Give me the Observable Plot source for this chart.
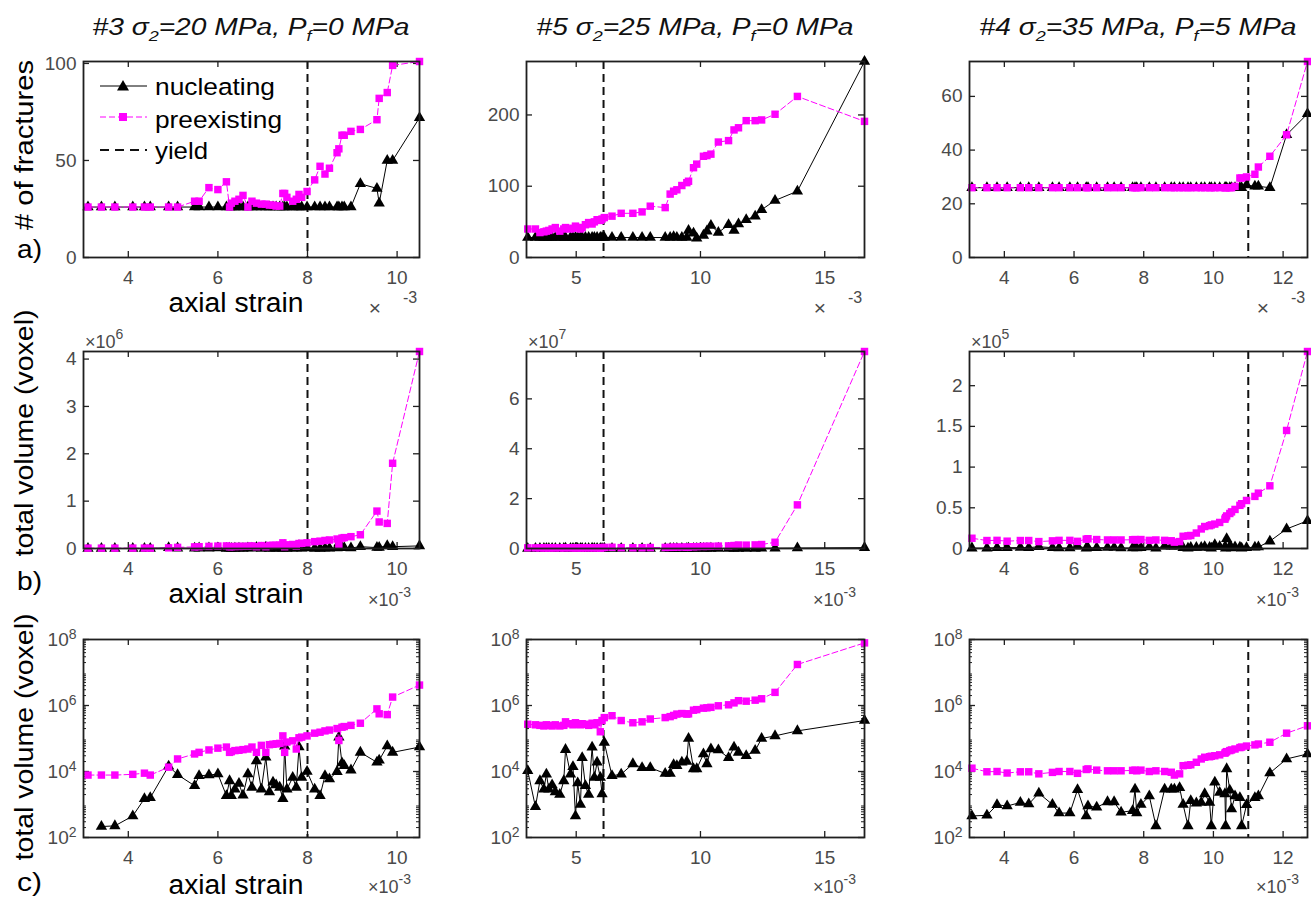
<!DOCTYPE html>
<html><head><meta charset="utf-8">
<script src="https://cdn.jsdelivr.net/npm/d3@7"></script>
<script src="https://cdn.jsdelivr.net/npm/@observablehq/plot@0.6"></script>
<style>
body{margin:0;background:#fff;overflow:hidden}
#fig{position:relative;width:1311px;height:901px;background:#fff;font-family:"Liberation Sans",Arial,sans-serif}
#fig .panel{position:absolute}
#overlay{position:absolute;left:0;top:0;pointer-events:none}
</style></head><body><div id="fig"></div>
<script>
// ---------------- DATA (axial strain in units of 1e-3) ----------------
// Experiment #3  sigma2=20 MPa, Pf=0 MPa
const strain3 = [3.1,3.4,3.7,4.1,4.36,4.49,4.9,5.1,5.48,5.58,5.8,6.0,6.19,6.26,6.3,6.38,6.47,6.56,6.67,6.76,6.86,6.97,7.07,7.15,7.23,7.3,7.38,7.45,7.49,7.54,7.67,7.75,7.81,7.87,7.99,8.16,8.28,8.39,8.49,8.66,8.7,8.77,8.82,8.97,9.18,9.55,9.6,9.78,9.9,10.5];
const nucCount3 = [26,26,26,26,26,26,26,26,26,26,26,26,26,26,26,26,26,26,26,26,26,26,26,26,26,26,26,26,26,26,26,26,26,26,26,26,26,26,26,26,26,26,26,26,38,35.6,28,50,50,72];
const preCount3 = [26,26,26,26,26,26,26,26,29,29,36,35,39,26,28,29,30,32,26,29,28,27.5,27.5,27,27,26.5,26.5,33,33,31,29,30,32.5,31,34,40,47,43,46,54,56,63,63,65,66,71,82,85,99,101];
const nucVol3 = [0,215,225,450,1500,1600,14500,8000,3700,7400,7800,8400,1850,5200,1850,2900,4300,1900,8400,3300,21000,2900,27000,2400,4700,3900,3300,1500,58000,2900,6600,3300,55000,6600,10000,2900,1850,7400,5900,9900,110000,18000,15000,11000,38000,19000,22000,59000,38000,55000];
const preVol3 = [7800,7800,7800,8200,8900,7800,13500,24000,34000,38000,45000,51000,55000,38000,40000,43000,44000,46000,48000,55000,38000,62000,38000,65000,67000,69000,71000,120000,38000,78000,85000,48000,105000,110000,120000,145000,155000,170000,180000,200000,87000,220000,230000,250000,290000,790000,560000,530000,1800000,4160000];

// Experiment #5  sigma2=25 MPa, Pf=0 MPa
const strain5 = [3.05,3.36,3.54,3.7,3.8,3.9,4.03,4.16,4.34,4.5,4.57,4.77,4.87,4.97,5.06,5.17,5.24,5.37,5.5,5.64,5.73,5.84,5.97,6.04,6.13,6.44,6.81,7.28,7.65,7.98,8.58,8.78,8.92,9.05,9.25,9.45,9.52,9.72,9.85,10.12,10.26,10.42,10.72,11.13,11.35,11.53,11.84,12.2,12.46,13.0,13.9,16.6];
const nucCount5 = [28,28,28,28,28,28,28,28,28,28,28,28,28,28,28,28,28,28,28,28,28,28,28,28,28,28,28,28,28,28,28,28,29,28,28,28,38,34,27,31,37,45,35,46,38,47,53,58,67,80,93,275];
const preCount5 = [40,40,35,36,37,38,40,42,37,40,42,40,41,44,42,40,42,46,49,47,50,53,52,54,56,58,62,62,64,72,70,89,93,95,101,105,107,126,131,142,143,145,162,164,179,182,192,192,193,201,226,191];
const nucVol5 = [10500,850,5200,2900,8300,2900,3900,2400,2000,5200,46000,8300,14000,450,4500,1000,26000,3700,2000,54000,6600,19000,6600,2100,76000,7400,8300,17000,13000,13000,8700,8700,16000,15000,19000,20000,100000,12000,12000,34000,17000,48000,45000,26000,54000,38000,30000,43000,100000,120000,170000,350000];
const preVol5 = [270000,260000,250000,240000,260000,250000,240000,260000,240000,250000,320000,280000,260000,300000,270000,260000,280000,270000,250000,290000,260000,300000,160000,350000,430000,490000,350000,300000,320000,390000,430000,460000,500000,550000,570000,550000,560000,720000,750000,830000,850000,880000,980000,1050000,1200000,1400000,1350000,1450000,1600000,2500000,17500000,79000000];

// Experiment #4  sigma2=35 MPa, Pf=5 MPa
const strain4 = [3.07,3.5,3.79,4.08,4.46,4.7,4.99,5.38,5.57,5.88,6.1,6.35,6.4,6.65,6.96,7.15,7.35,7.68,7.75,7.8,7.92,8.16,8.35,8.6,8.79,8.88,9.03,9.13,9.27,9.35,9.51,9.65,9.75,9.89,9.94,10.04,10.18,10.33,10.35,10.38,10.47,10.52,10.62,10.76,10.81,10.95,11.19,11.29,11.62,12.1,12.7];
const nucCount4 = [26,26,26,26,26,26,26,26,26,26,26,26,26,26,26,26,26,26,26,26,26,26,26,26,26,26,26,26,26,26,26,26,26,26,26,26,26,26,26,26,26,26,26,26,26,27,26.5,26.5,26,45.7,53.5];
const preCount4 = [26,26,26,26,26,26,26,26,26,26,26,26,26,26,26,26,26,26,26,26,26,26,26,26,26,26,26,26,26,26,26,26,26,26,26,26,26,26,26,26,26,26,26.5,29.6,29.6,30,31,33.7,37.7,45.7,73];
const nucVol4 = [450,470,980,900,1150,1030,2200,1000,550,550,2800,450,900,820,1200,1200,580,650,2900,550,1000,1800,225,2900,2900,2900,3200,1000,225,1300,1100,1150,2100,1150,225,4700,2300,2100,225,12000,2700,730,1800,1600,225,980,1600,1800,9000,24000,34000];
const preVol4 = [12600,9800,10000,9000,9800,9800,8500,9400,10000,10000,8800,11500,12000,11000,10500,10500,10500,10800,11000,10500,11000,10000,10500,10000,9500,7800,8500,15000,15500,16000,19000,24000,27000,28000,29000,30000,32000,36000,38000,40000,43000,45000,48000,53000,55000,59000,64000,68000,77000,145000,242000];

// Yield strain, axes domains and ticks
const yieldStrain = [8.0, 6.1, 11.0];
const xDomain3 = [3.0, 10.5], xDomain5 = [3.0, 16.6], xDomain4 = [3.0, 12.7];
const xTicks3 = [4, 6, 8, 10], xTicks5 = [5, 10, 15], xTicks4 = [4, 6, 8, 10, 12];
const countTicks3 = [0, 50, 100], countTicks5 = [0, 100, 200], countTicks4 = [0, 20, 40, 60];
const volTicks3 = [0, 1e6, 2e6, 3e6, 4e6], volTicks5 = [0, 2e7, 4e7, 6e7], volTicks4 = [0, 5e4, 1e5, 1.5e5, 2e5];
const volExponent = [6, 7, 5];
const logTicks = [1e2, 1e4, 1e6, 1e8];
const expNames = ["#3", "#5", "#4"];
const sigma2 = [20, 25, 35];
const porePressure = [0, 0, 5];
const seriesNames = ["nucleating", "preexisting", "yield"];

// ---------------- LAYOUT ----------------
const colLeft = [83, 526, 969], colW = [336, 338, 338];
const rowTop = [61, 351, 639], rowH = [196, 197, 198];
const mL = 62, mR = 4, mT = 8, mB = 36;
const axisCol = "#1f1f1f", tickLabelCol = "#4a4a4a";
const SVGNS = "http://www.w3.org/2000/svg";

const exps = [
  {strain: strain3, nc: nucCount3, pc: preCount3, nv: nucVol3, pv: preVol3, xd: xDomain3, xt: xTicks3, ct: countTicks3, vt: volTicks3},
  {strain: strain5, nc: nucCount5, pc: preCount5, nv: nucVol5, pv: preVol5, xd: xDomain5, xt: xTicks5, ct: countTicks5, vt: volTicks5},
  {strain: strain4, nc: nucCount4, pc: preCount4, nv: nucVol4, pv: preVol4, xd: xDomain4, xt: xTicks4, ct: countTicks4, vt: volTicks4}
];

const minorLog = [];
for (let k = 2; k < 8; k++) for (let m = 2; m <= 9; m++) minorLog.push(m * Math.pow(10, k));

const fig = document.getElementById("fig");

function zip(xs, ys, positive) {
  const out = xs.map((x, i) => ({strain: x, v: ys[i]}));
  return positive ? out.filter(d => d.v > 0) : out;
}

function panel(col, row) {
  const e = exps[col];
  const W = colW[col], H = rowH[row];
  let nuc, pre, yType = "linear", yDomain, yTicks, fmt, minor = null;
  if (row === 0) {
    nuc = zip(e.strain, e.nc); pre = zip(e.strain, e.pc);
    yDomain = [0, d3.max([...e.nc, ...e.pc])]; yTicks = e.ct; fmt = d => String(d);
  } else if (row === 1) {
    nuc = zip(e.strain, e.nv); pre = zip(e.strain, e.pv);
    yDomain = [0, d3.max([...e.nv, ...e.pv])]; yTicks = e.vt;
    const s = Math.pow(10, volExponent[col]);
    fmt = d => String(+(d / s).toFixed(2));
  } else {
    nuc = zip(e.strain, e.nv, true); pre = zip(e.strain, e.pv, true);
    yType = "log"; yDomain = [1e2, 1e8]; yTicks = logTicks; minor = minorLog;
    fmt = d => "10^" + Math.round(Math.log10(d));
  }
  const tk = {stroke: axisCol, strokeWidth: 1.3};
  const marks = [
    Plot.ruleX(e.xt, {...tk, insetTop: H - 6}),
    Plot.ruleX(e.xt, {...tk, insetBottom: H - 6}),
    Plot.ruleY(yTicks, {...tk, insetRight: W - 6}),
    Plot.ruleY(yTicks, {...tk, insetLeft: W - 6})
  ];
  if (minor) {
    marks.push(Plot.ruleY(minor, {stroke: axisCol, strokeWidth: 1, insetRight: W - 3}));
    marks.push(Plot.ruleY(minor, {stroke: axisCol, strokeWidth: 1, insetLeft: W - 3}));
  }
  marks.push(
    Plot.axisX(e.xt, {tickSize: 0, tickPadding: 13, label: null, fontSize: 19, fill: tickLabelCol}),
    Plot.axisY(yTicks, {tickSize: 0, tickPadding: 7, label: null, tickFormat: fmt, fontSize: 19, fill: tickLabelCol}),
    Plot.ruleX([yieldStrain[col]], {stroke: "#111", strokeWidth: 2, strokeDasharray: "8,5"}),
    Plot.line(nuc, {x: "strain", y: "v", stroke: "#000", strokeWidth: 1}),
    Plot.dot(nuc, {x: "strain", y: "v", symbol: "triangle", r: 4.2, fill: "#000", stroke: "none"}),
    Plot.line(pre, {x: "strain", y: "v", stroke: "#ff00ff", strokeWidth: 1, strokeDasharray: "6,3"}),
    Plot.dot(pre, {x: "strain", y: "v", symbol: "square", r: 4.2, fill: "#ff00ff", stroke: "none"}),
    Plot.frame({stroke: axisCol, strokeWidth: 1.8})
  );
  const svg = Plot.plot({
    width: mL + W + mR, height: mT + H + mB,
    marginLeft: mL, marginRight: mR, marginTop: mT, marginBottom: mB,
    style: {fontFamily: '"Liberation Sans", Arial, sans-serif', background: "transparent", overflow: "visible", color: tickLabelCol},
    x: {type: "linear", domain: e.xd},
    y: {type: yType, domain: yDomain},
    marks
  });
  // superscript for log labels
  svg.querySelectorAll("text").forEach(t => {
    const m = t.textContent.match(/^10\^(\d+)$/);
    if (m) {
      t.textContent = "10";
      const ts = document.createElementNS(SVGNS, "tspan");
      ts.setAttribute("dy", "-0.5em");
      ts.style.fontSize = "14px";
      ts.textContent = m[1];
      t.appendChild(ts);
    }
  });
  const div = document.createElement("div");
  div.className = "panel";
  div.style.left = (colLeft[col] - mL) + "px";
  div.style.top = (rowTop[row] - mT) + "px";
  div.appendChild(svg);
  fig.appendChild(div);
}

for (let r = 0; r < 3; r++) for (let c = 0; c < 3; c++) panel(c, r);

// ---------------- ANNOTATIONS (titles, labels, legend) ----------------
let o = `<svg id="overlay" width="1311" height="901" xmlns="${SVGNS}" font-family="Liberation Sans, Arial, sans-serif">`;
for (let c = 0; c < 3; c++) {
  const cx = colLeft[c] + colW[c] / 2, R = colLeft[c] + colW[c], L = colLeft[c];
  o += `<text x="${cx}" y="35" text-anchor="middle" font-style="italic" font-size="23.5" textLength="317" lengthAdjust="spacingAndGlyphs" fill="#111">${expNames[c]} σ<tspan dy="6" font-size="15">2</tspan><tspan dy="-6">=${sigma2[c]} MPa, P</tspan><tspan dy="6" font-size="15">f</tspan><tspan dy="-6">=${porePressure[c]} MPa</tspan></text>`;
  // row a: truncated exponent
  o += `<text x="${R - 44}" y="315" text-anchor="middle" font-size="21" fill="${tickLabelCol}">×</text>`;
  o += `<text x="${R - 9}" y="303" text-anchor="middle" font-size="16" fill="${tickLabelCol}">-3</text>`;
  // rows b, c: x10^-3
  for (const by of [606, 893]) {
    o += `<text x="${R - 51}" y="${by}" font-size="18" fill="${tickLabelCol}">×10<tspan dy="-9" font-size="14">-3</tspan></text>`;
  }
  // row b: y exponent
  o += `<text x="${L + 2}" y="348" font-size="18" fill="${tickLabelCol}">×10<tspan dy="-9" font-size="14">${volExponent[c]}</tspan></text>`;
}
// y labels
o += `<text transform="translate(33,145) rotate(-90)" text-anchor="middle" font-size="25.5" textLength="170" lengthAdjust="spacingAndGlyphs" fill="#000"># of fractures</text>`;
o += `<text transform="translate(33,433) rotate(-90)" text-anchor="middle" font-size="25.5" textLength="247" lengthAdjust="spacingAndGlyphs" fill="#000">total volume (voxel)</text>`;
o += `<text transform="translate(33,737) rotate(-90)" text-anchor="middle" font-size="25.5" textLength="247" lengthAdjust="spacingAndGlyphs" fill="#000">total volume (voxel)</text>`;
// x labels and panel letters
[[312, "a)", 258], [603, "b)", 590], [894, "c)", 891]].forEach(([by, letter, ly]) => {
  o += `<text x="236" y="${by}" text-anchor="middle" font-size="27" textLength="135" lengthAdjust="spacingAndGlyphs" fill="#000">axial strain</text>`;
  o += `<text x="17" y="${ly}" font-size="26" textLength="25" lengthAdjust="spacingAndGlyphs" fill="#000">${letter}</text>`;
});
// legend
o += `<line x1="100" x2="147" y1="86" y2="86" stroke="#000" stroke-width="1"/>`;
o += `<path d="M123,80 L129,90.5 L117,90.5 Z" fill="#000"/>`;
o += `<text x="155" y="95" font-size="24.5" textLength="120" lengthAdjust="spacingAndGlyphs" fill="#000">${seriesNames[0]}</text>`;
o += `<line x1="100" x2="147" y1="117" y2="117" stroke="#ff00ff" stroke-width="1" stroke-dasharray="6,3"/>`;
o += `<rect x="119" y="113" width="8" height="8" fill="#ff00ff"/>`;
o += `<text x="155" y="128" font-size="24.5" textLength="127" lengthAdjust="spacingAndGlyphs" fill="#000">${seriesNames[1]}</text>`;
o += `<line x1="100" x2="147" y1="150" y2="150" stroke="#111" stroke-width="2" stroke-dasharray="9,6"/>`;
o += `<text x="155" y="159" font-size="24.5" textLength="53" lengthAdjust="spacingAndGlyphs" fill="#000">${seriesNames[2]}</text>`;
o += `</svg>`;
fig.insertAdjacentHTML("beforeend", o);
</script></body></html>
